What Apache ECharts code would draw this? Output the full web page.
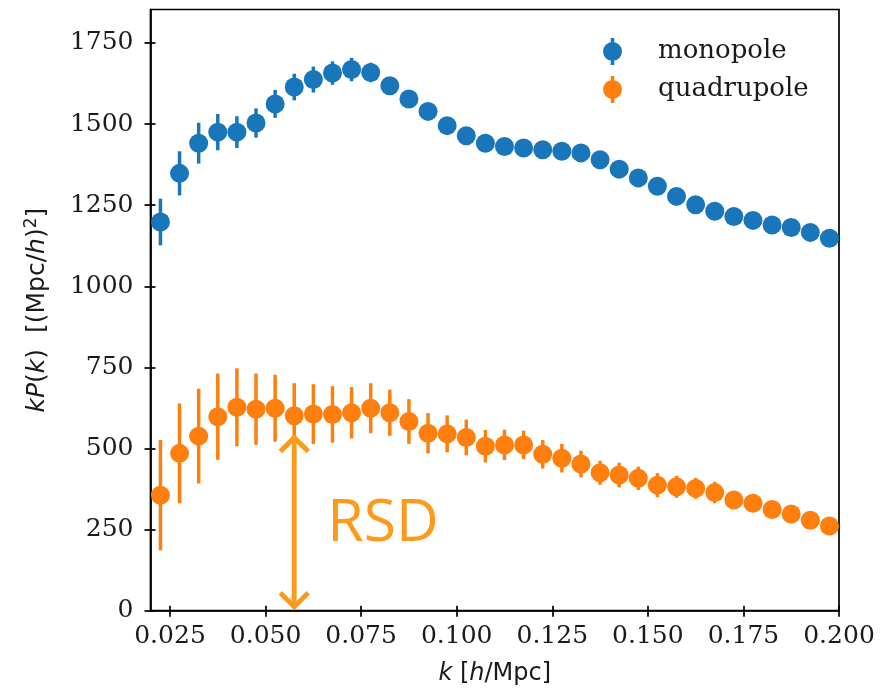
<!DOCTYPE html>
<html>
<head>
<meta charset="utf-8">
<script src="https://cdn.jsdelivr.net/npm/echarts@6/dist/echarts.min.js"></script>
<style>
html,body{margin:0;padding:0;background:#fff;}
#chart{width:893px;height:699px;}
</style>
</head>
<body>
<div id="chart"></div>
<script>
// ---- data ----
const kValues = [0.0225,0.0275,0.0325,0.0375,0.0425,0.0475,0.0525,0.0575,0.0625,0.0675,0.0725,0.0775,0.0825,0.0875,0.0925,0.0975,0.1025,0.1075,0.1125,0.1175,0.1225,0.1275,0.1325,0.1375,0.1425,0.1475,0.1525,0.1575,0.1625,0.1675,0.1725,0.1775,0.1825,0.1875,0.1925,0.1975];
const monopole = [1198,1348,1441,1475,1475,1503,1562,1614,1637,1657,1668,1659,1618,1577,1539,1495,1464,1441,1431,1426,1421,1416,1411,1390,1361,1334,1308,1277,1251,1231,1215,1203,1189,1181,1166,1148];
const monopoleErr = [72,68,63,56,49,45,43,41,40,36,36,30,27,25,24,23,22,21,21,20,20,20,20,19,19,19,18,18,18,18,17,17,17,17,17,17];
const quadrupole = [356,485,538,598,627,621,624,601,606,605,610,624,610,583,547,545,534,507,511,511,482,470,452,425,418,408,387,382,377,364,341,331,312,298,279,261];
const quadrupoleErr = [170,154,146,133,120,110,103,100,92,87,79,77,71,69,62,57,55,50,47,44,44,44,41,37,38,36,37,34,32,33,28,27,26,25,24,23];
const xTicks = [0.025,0.05,0.075,0.1,0.125,0.15,0.175,0.2];
const yTicks = [0,250,500,750,1000,1250,1500,1750];
const seriesNames = ['monopole','quadrupole'];
// RSD annotation: [k, lower value, upper value]
const rsdArrow = [[0.0575, 12, 534]];
const rsdLabel = 'RSD';

// ---- styles ----
const BLUE = '#1a76bb';
const ORANGE = '#ff7f0e';
const RSD_COLOR = '#fd9a1b';
const TICK_FONT = 'DejaVu Serif';
const LABEL_FONT = 'DejaVu Sans';

const monoData = kValues.map((k,i)=>[k, monopole[i]]);
const monoErrData = kValues.map((k,i)=>[k, monopole[i], monopoleErr[i]]);
const quadData = kValues.map((k,i)=>[k, quadrupole[i]]);
const quadErrData = kValues.map((k,i)=>[k, quadrupole[i], quadrupoleErr[i]]);

function errRender(color){
  return function(params, api){
    const x = api.value(0), y = api.value(1), e = api.value(2);
    const p1 = api.coord([x, y - e]);
    const p2 = api.coord([x, y + e]);
    return {type:'line', shape:{x1:p1[0], y1:p1[1], x2:p2[0], y2:p2[1]},
      style:{stroke:color, lineWidth:3.5}};
  };
}

function arrowRender(params, api){
  const x = api.value(0);
  const lo = api.coord([x, api.value(1)]);
  const hi = api.coord([x, api.value(2)]);
  const aw = 14, ah = 14, lw = 4.8;
  return {type:'group', children:[
    {type:'line', shape:{x1:lo[0], y1:lo[1], x2:hi[0], y2:hi[1]}, style:{stroke:RSD_COLOR, lineWidth:lw}},
    {type:'polyline', shape:{points:[[hi[0]-aw, hi[1]+ah],[hi[0],hi[1]],[hi[0]+aw, hi[1]+ah]]}, style:{stroke:RSD_COLOR, lineWidth:lw, fill:null}},
    {type:'polyline', shape:{points:[[lo[0]-aw, lo[1]-ah],[lo[0],lo[1]],[lo[0]+aw, lo[1]-ah]]}, style:{stroke:RSD_COLOR, lineWidth:lw, fill:null}},
    {type:'text', style:{text:rsdLabel, x:hi[0]+33, y:(hi[1]+lo[1])/2+2, verticalAlign:'middle', align:'left',
      fontFamily:'Open Sans', fontSize:59, fill:RSD_COLOR}}
  ]};
}

// circle with error-bar stubs above and below (no overlapping subpaths)
const legendIcon = 'path://M7.7,0H11.3V5H7.7Z M7.7,22H11.3V27H7.7Z M0,13.5A9.5,9.5 0 1 1 19,13.5A9.5,9.5 0 1 1 0,13.5Z';

const xMin = 0.0199, xMax = 0.2, yMin = 0, yMax = 1853;

const axisLineStyle = {color:'#000', width:1.7};

const option = {
  animation:false,
  backgroundColor:'#fff',
  grid:{left:150.5, top:9.5, right:54, bottom:88.3, show:true, borderColor:'#000', borderWidth:1.7, backgroundColor:'transparent'},
  legend:{
    orient:'vertical', left:598, top:33, itemWidth:19, itemHeight:27, itemGap:11,
    data:seriesNames.map(n=>({name:n, icon:legendIcon})),
    textStyle:{fontFamily:TICK_FONT, fontSize:26, color:'#1a1a1a', padding:[0,0,0,31]}
  },
  xAxis:[{
    type:'value', min:xMin, max:xMax, position:'bottom',
    axisLine:{show:true, lineStyle:axisLineStyle},
    axisTick:{show:true, customValues:xTicks, length:6, inside:false, lineStyle:axisLineStyle},
    axisLabel:{customValues:xTicks, formatter:v=>v.toFixed(3), fontFamily:TICK_FONT, fontSize:25, color:'#1a1a1a', margin:13},
    splitLine:{show:false},
    name:'{i|k} [{i|h}/Mpc]', nameLocation:'middle', nameGap:51,
    nameTextStyle:{fontFamily:LABEL_FONT, fontSize:24, color:'#1a1a1a',
      rich:{i:{fontFamily:LABEL_FONT, fontStyle:'italic', fontSize:24, color:'#1a1a1a'}}}
  },{
    type:'value', min:xMin, max:xMax, position:'bottom',
    axisLine:{show:false},
    axisTick:{show:true, customValues:xTicks, length:5, inside:true, lineStyle:axisLineStyle},
    axisLabel:{show:false}, splitLine:{show:false}
  }],
  yAxis:[{
    type:'value', min:yMin, max:yMax, position:'left',
    axisLine:{show:true, lineStyle:axisLineStyle},
    axisTick:{show:true, customValues:yTicks, length:6, inside:false, lineStyle:axisLineStyle},
    axisLabel:{customValues:yTicks, formatter:v=>String(v), fontFamily:TICK_FONT, fontSize:25, color:'#1a1a1a', margin:17},
    splitLine:{show:false},
    name:'{i|kP}({i|k})  [(Mpc/{i|h}){s|2}]', nameLocation:'middle', nameGap:100, nameRotate:90,
    nameTextStyle:{fontFamily:LABEL_FONT, fontSize:25, color:'#1a1a1a',
      rich:{i:{fontFamily:LABEL_FONT, fontStyle:'italic', fontSize:25, color:'#1a1a1a'},
            s:{fontFamily:LABEL_FONT, fontSize:17, color:'#1a1a1a', verticalAlign:'top', padding:[0,0,10,0]}}}
  },{
    type:'value', min:yMin, max:yMax, position:'left',
    axisLine:{show:false},
    axisTick:{show:true, customValues:yTicks, length:5, inside:true, lineStyle:axisLineStyle},
    axisLabel:{show:false}, splitLine:{show:false}
  }],
  series:[
    {name:'monoErr', type:'custom', renderItem:errRender(BLUE), data:monoErrData, xAxisIndex:0, yAxisIndex:0, silent:true, encode:{x:0,y:[1]}},
    {name:seriesNames[0], type:'scatter', data:monoData, symbol:'circle', symbolSize:19, itemStyle:{color:BLUE, opacity:1}, xAxisIndex:0, yAxisIndex:0},
    {name:'quadErr', type:'custom', renderItem:errRender(ORANGE), data:quadErrData, xAxisIndex:0, yAxisIndex:0, silent:true, encode:{x:0,y:[1]}},
    {name:seriesNames[1], type:'scatter', data:quadData, symbol:'circle', symbolSize:19, itemStyle:{color:ORANGE, opacity:1}, xAxisIndex:0, yAxisIndex:0},
    {name:'rsd', type:'custom', renderItem:arrowRender, data:rsdArrow, xAxisIndex:0, yAxisIndex:0, silent:true, z:5, encode:{x:0,y:[1,2]}}
  ]
};

const chart = echarts.init(document.getElementById('chart'), null, {renderer:'canvas'});
chart.setOption(option);
</script>
</body>
</html>
